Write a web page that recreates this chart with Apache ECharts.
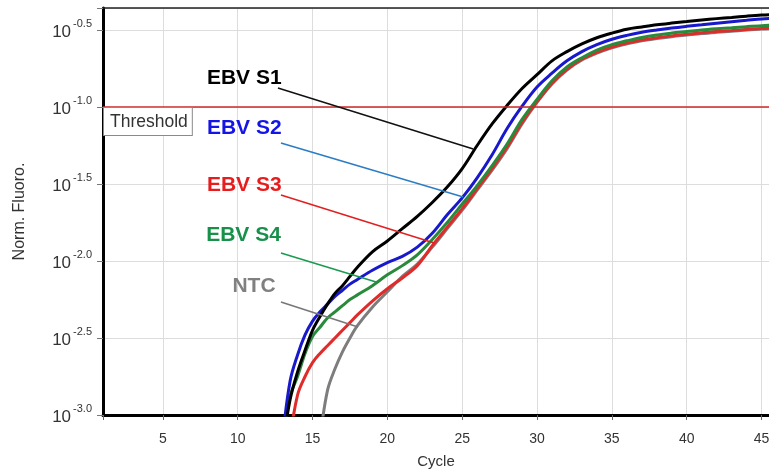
<!DOCTYPE html>
<html><head><meta charset="utf-8">
<script src="https://cdn.jsdelivr.net/npm/echarts@6/dist/echarts.min.js"></script>
<style>html,body{margin:0;padding:0;background:#fff}#c{width:769px;height:472px}</style>
</head><body><div id="c"></div>
<script>
// Cycle numbers (x) and log10 normalised fluorescence (y)
const cycles = [13,13.5,14,14.5,15,15.5,16,16.5,17,17.5,18,19,20,21,22,23,24,25,26,27,28,29,30,31,32,33,34,35,36,37,38,39,40,41,42,43,44,45,46];
const ebvS1 = [-3.2,-2.90,-2.72,-2.58,-2.45,-2.36,-2.28,-2.21,-2.16,-2.10,-2.04,-1.94,-1.87,-1.79,-1.71,-1.62,-1.52,-1.40,-1.25,-1.11,-0.99,-0.88,-0.79,-0.70,-0.64,-0.59,-0.55,-0.52,-0.495,-0.48,-0.466,-0.455,-0.445,-0.435,-0.426,-0.418,-0.41,-0.403,-0.398];
const ebvS2 = [-3.15,-2.78,-2.61,-2.48,-2.39,-2.33,-2.28,-2.23,-2.19,-2.15,-2.12,-2.06,-2.01,-1.97,-1.91,-1.82,-1.70,-1.59,-1.46,-1.31,-1.14,-0.995,-0.87,-0.78,-0.70,-0.64,-0.595,-0.56,-0.535,-0.515,-0.50,-0.487,-0.476,-0.466,-0.456,-0.446,-0.437,-0.428,-0.422];
const ebvS3 = [-3.6,-3.15,-2.87,-2.75,-2.66,-2.60,-2.55,-2.50,-2.45,-2.40,-2.35,-2.26,-2.18,-2.11,-2.03,-1.90,-1.78,-1.66,-1.53,-1.40,-1.26,-1.10,-0.965,-0.845,-0.755,-0.69,-0.645,-0.61,-0.585,-0.565,-0.55,-0.538,-0.528,-0.518,-0.51,-0.503,-0.496,-0.49,-0.486];
const ebvS4 = [-3.2,-2.88,-2.75,-2.60,-2.49,-2.43,-2.37,-2.33,-2.29,-2.25,-2.22,-2.16,-2.09,-2.03,-1.96,-1.86,-1.75,-1.63,-1.51,-1.38,-1.24,-1.08,-0.95,-0.83,-0.74,-0.68,-0.63,-0.595,-0.57,-0.548,-0.532,-0.52,-0.51,-0.50,-0.492,-0.485,-0.478,-0.472,-0.468];
const ntc   = [null,null,null,null,null,-3.15,-2.84,-2.70,-2.59,-2.50,-2.42,-2.30,-2.20,-2.10,-2.02,-1.91,-1.79,-1.67,-1.54,-1.41,-1.27,-1.11,-0.97,-0.85,-0.76,-0.695,-0.65,-0.615,-0.59,-0.57,-0.555,-0.543,-0.533,-0.523,-0.515,-0.508,-0.50,-0.494,-0.49];
const xTicks = [5,10,15,20,25,30,35,40,45];
const yTicks = [-3.0,-2.5,-2.0,-1.5,-1.0,-0.5];
const thresholdLog = -1.0;

// annotation layout (data coordinates): label anchor, leader start, leader end
const notes = {
  'EBV S1': {label:[13.0,-0.812], from:[12.69,-0.877], to:[25.74,-1.273], text:'#000000', line:'#111111'},
  'EBV S2': {label:[13.0,-1.136], from:[12.89,-1.234], to:[25.07,-1.584], text:'#1414e6', line:'#2b7cc4'},
  'EBV S3': {label:[13.0,-1.506], from:[12.89,-1.571], to:[23.13,-1.883], text:'#e81c1c', line:'#e02020'},
  'EBV S4': {label:[12.95,-1.831], from:[12.89,-1.948], to:[19.25,-2.136], text:'#17904a', line:'#1a9a50'},
  'NTC':    {label:[12.6,-2.162], from:[12.89,-2.266], to:[18.04,-2.429], text:'#808080', line:'#777777'}
};

const seriesDefs = [
  {name:'NTC', vals:ntc, color:'#7d7d7d'},
  {name:'EBV S3', vals:ebvS3, color:'#e12a2a'},
  {name:'EBV S4', vals:ebvS4, color:'#2a8a3c'},
  {name:'EBV S2', vals:ebvS2, color:'#1818cc'},
  {name:'EBV S1', vals:ebvS1, color:'#000000'}
];

const font = '"Liberation Sans", Arial, sans-serif';
const isTick = (v, arr) => arr.some(t => Math.abs(t - v) < 1e-6);

const series = seriesDefs.map((d, idx) => {
  const n = notes[d.name];
  const mlData = [[{coord:n.from, lineStyle:{color:n.line, width:1.5, type:'solid'}}, {coord:n.to}]];
  if (idx === 0) {
    mlData.unshift({
      yAxis: thresholdLog,
      lineStyle:{color:'#cc2a2a', width:1.5, type:'solid'},
      label:{show:true, position:'insideStartBottom', formatter:'Threshold', color:'#333', fontFamily:font,
        fontSize:17.5, backgroundColor:'#fff', borderColor:'#8a8a8a', borderWidth:1, padding:[5,4,4,6], distance:1}
    });
  }
  return {
    name:d.name, type:'line', data:cycles.map((c,i)=>[c, d.vals[i]]),
    showSymbol:false, smooth:0.35, clip:true, silent:true,
    lineStyle:{color:d.color, width:3}, itemStyle:{color:d.color},
    markLine:{silent:true, symbol:['none','none'], label:{show:false}, animation:false, data:mlData},
    markPoint:{silent:true, animation:false, symbol:'circle', symbolSize:0,
      data:[{coord:n.label, label:{show:true, position:'left', distance:1, formatter:d.name,
        color:n.text, fontSize:21, fontWeight:'bold', fontFamily:font}}]}
  };
});

const chart = echarts.init(document.getElementById('c'), null, {renderer:'canvas'});
chart.setOption({
  animation:false,
  backgroundColor:'#ffffff',
  grid:{left:103, right:0, top:8, bottom:57, containLabel:false, outerBoundsMode:'none'},
  xAxis:[{
    type:'value', min:1, max:45.5, minInterval:5, maxInterval:5,
    name:'Cycle', nameLocation:'middle', nameGap:39,
    nameTextStyle:{fontFamily:font, fontSize:15, color:'#333'},
    axisLine:{show:true, onZero:false, lineStyle:{color:'#000', width:3}},
    axisTick:{show:true, length:5, lineStyle:{color:'#666'}},
    axisLabel:{fontFamily:font, fontSize:14, color:'#333', margin:17,
      formatter:v => isTick(v, xTicks) ? String(v) : ''},
    splitLine:{show:true, lineStyle:{color:'#dddddd', width:1}}
  },{
    type:'value', position:'top', min:1, max:45.5,
    axisLine:{show:true, onZero:false, lineStyle:{color:'#222', width:1.5}},
    axisTick:{show:false}, axisLabel:{show:false}, splitLine:{show:false}
  }],
  yAxis:{
    type:'value', min:-3, max:-0.357, interval:0.5,
    name:'Norm. Fluoro.', nameLocation:'middle', nameGap:75, nameRotate:90,
    nameTextStyle:{fontFamily:font, fontSize:16, color:'#333'},
    axisLine:{show:true, onZero:false, lineStyle:{color:'#000', width:3}},
    axisTick:{show:true, length:6, lineStyle:{color:'#777'}},
    axisLabel:{margin:11, fontFamily:font,
      formatter:v => isTick(v, yTicks) ? '{b|10}{s|' + v.toFixed(1) + '}' : '',
      rich:{
        b:{fontSize:17, color:'#333', fontFamily:font, lineHeight:22.5, verticalAlign:'bottom', padding:[0,2,0,0]},
        s:{fontSize:11, color:'#333', fontFamily:font, lineHeight:10, verticalAlign:'top'}
      }},
    splitLine:{show:true, lineStyle:{color:'#dddddd', width:1}}
  },
  series:series
});
</script></body></html>
